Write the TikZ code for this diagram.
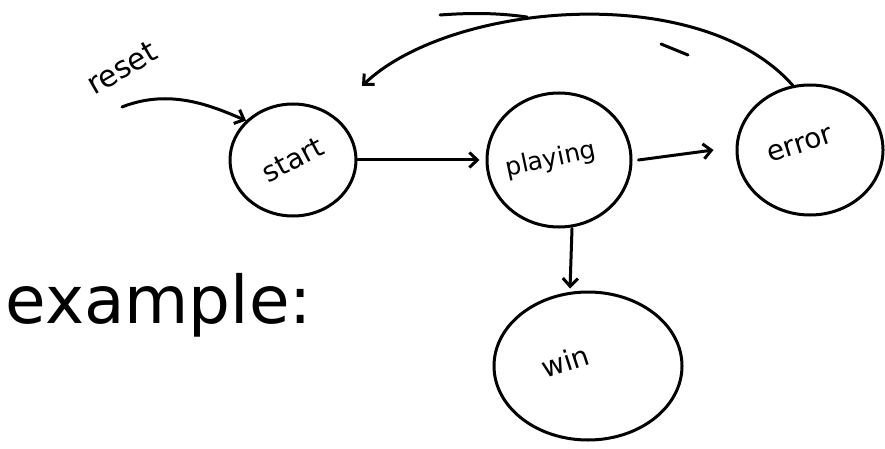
\documentclass[tikz,border=0pt]{standalone}
\usepackage{fontspec}
\setmainfont{DejaVu Sans}
\usetikzlibrary{shapes.geometric,arrows.meta}
\begin{document}
\begin{tikzpicture}[x=1pt,y=-1pt,
  ink/.style={line width=3pt,line cap=round,line join=round,black},
  statebox/.style={ink,draw,ellipse,inner sep=0pt,font=\fontsize{28}{30}\selectfont},
  arr/.style={ink,-{Straight Barb[length=8pt,width=15pt,line width=3pt]}}]
\useasboundingbox (0,0) rectangle (885,449);
% states
\node[statebox,minimum width=126pt,minimum height=112pt] (start) at (293,160) {\makebox[0pt]{\rotatebox{28}{start}}};
\node[statebox,minimum width=144pt,minimum height=134pt] (playing) at (559,160) {\makebox[0pt]{\fontsize{25}{27}\selectfont\raisebox{-16pt}{\rotatebox{12}{playing}}\kern16pt}};
\node[statebox,minimum width=146pt,minimum height=130pt] (error) at (810,150) {\makebox[0pt]{\raisebox{10pt}{\rotatebox{18}{error}}\kern20pt}};
\node[statebox,minimum width=188pt,minimum height=148pt] (win) at (588,366) {\makebox[0pt]{\raisebox{10pt}{\rotatebox{18}{win}}\kern46pt}};
% reset entry
\node[font=\fontsize{30}{32}\selectfont,rotate=30] (reset) at (122,68) {reset};
\coordinate (rs) at (122,107);
\draw[arr] (rs) .. controls (170,88) and (212,106) .. (start.140);
% transitions
\draw[arr] (start.east) -- ([xshift=-6pt]playing.west);
\draw[arr] ([xshift=6pt]playing.east) -- ([xshift=-22pt]error.west);
\draw[arr] ([xshift=13pt]playing.south) -- ([xshift=-18pt,yshift=2pt]win.north);
\draw[arr] (error.105) .. controls (700,-20) and (450,2) .. (362,86);
% stray pen strokes
\coordinate (s1) at (440,15);
\coordinate (s2) at (527,17);
\draw[ink] (s1) .. controls (480,12) and (505,14) .. (s2);
\coordinate (d1) at (661,44);
\coordinate (d2) at (688,55);
\draw[ink] (d1) -- (d2);
% title
\node[font=\fontsize{66}{72}\selectfont,anchor=west] (ex) at (2,305) {example:};
\end{tikzpicture}
\end{document}
